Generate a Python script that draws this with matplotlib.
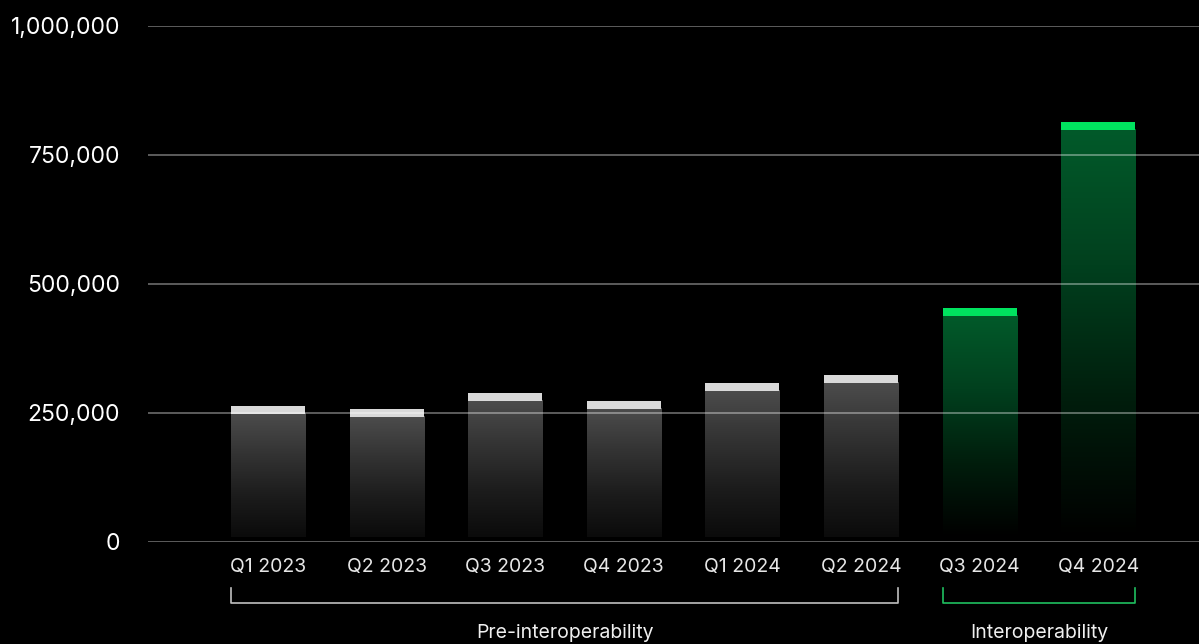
import numpy as np
import matplotlib
matplotlib.use("Agg")
import matplotlib.pyplot as plt
from matplotlib.colors import LinearSegmentedColormap

# Quarterly totals
quarters = ["Q1 2023", "Q2 2023", "Q3 2023", "Q4 2023",
            "Q1 2024", "Q2 2024", "Q3 2024", "Q4 2024"]
values = [262600, 256800, 287200, 271700, 307800, 323300, 452500, 813600]
interop = [False, False, False, False, False, False, True, True]

y_ticks = [0, 250000, 500000, 750000, 1000000]
y_tick_labels = ["0", "250,000", "500,000", "750,000", "1,000,000"]

groups = [("Pre-interoperability", 0, 5), ("Interoperability", 6, 7)]

plt.rcParams["font.family"] = ["Inter", "DejaVu Sans"]

W, H = 1199, 644
fig = plt.figure(figsize=(W / 100, H / 100), dpi=100, facecolor="black")
ax = fig.add_axes([148 / W, (H - 541.5) / H, (W - 148) / W, 516 / H])
ax.set_facecolor("black")

bar_w = 0.624
gray_cmap = LinearSegmentedColormap.from_list("g", ["#0b0b0b", "#1c1c1c", "#333333", "#4c4c4c"])
green_cmap = LinearSegmentedColormap.from_list("gr", ["#000000", "#001d0c", "#01401e", "#025a2a"])
grad = np.linspace(0, 1, 256).reshape(-1, 1)

base = 8000      # small gap between bar bodies and the baseline
cap_h = 15500    # thickness of the highlighted top cap
for i, (v, g) in enumerate(zip(values, interop)):
    cmap = green_cmap if g else gray_cmap
    ax.imshow(grad, cmap=cmap, origin="lower", aspect="auto",
              extent=[i - bar_w / 2, i + bar_w / 2, base, v - cap_h], zorder=1,
              interpolation="bilinear")
    ax.bar(i, cap_h, bottom=v - cap_h, width=bar_w,
           color="#00e35f" if g else "#d9d9d9", zorder=2, linewidth=0)

ax.set_xlim(-1.012, 7.85)
ax.set_ylim(0, 1000000)

for t in y_ticks:
    ax.axhline(t, color="white", alpha=0.36, lw=1.4, zorder=3)

ax.set_yticks(y_ticks)
ax.set_yticklabels(y_tick_labels, color="white", fontsize=16.5)
ax.set_xticks(range(len(quarters)))
ax.set_xticklabels(quarters, color="#e6e6e6", fontsize=14)
ax.tick_params(axis="y", length=0, pad=20)
ax.tick_params(axis="x", length=0, pad=12)
for s in ax.spines.values():
    s.set_visible(False)

trans = ax.get_xaxis_transform()
for (label, a, b), col in zip(groups, ["#bfbfbf", "#1fbf5f"]):
    x0 = a - bar_w / 2
    x1 = b + bar_w / 2
    y_top, y_bot = -0.090, -0.119
    ax.plot([x0, x0, x1, x1], [y_top, y_bot, y_bot, y_top], transform=trans,
            color=col, lw=1.2, clip_on=False)
    ax.text((x0 + x1) / 2, -0.178, label, transform=trans, ha="center",
            va="center", color="#f0f0f0", fontsize=14)

fig.savefig("out.png", dpi=100, facecolor="black")
